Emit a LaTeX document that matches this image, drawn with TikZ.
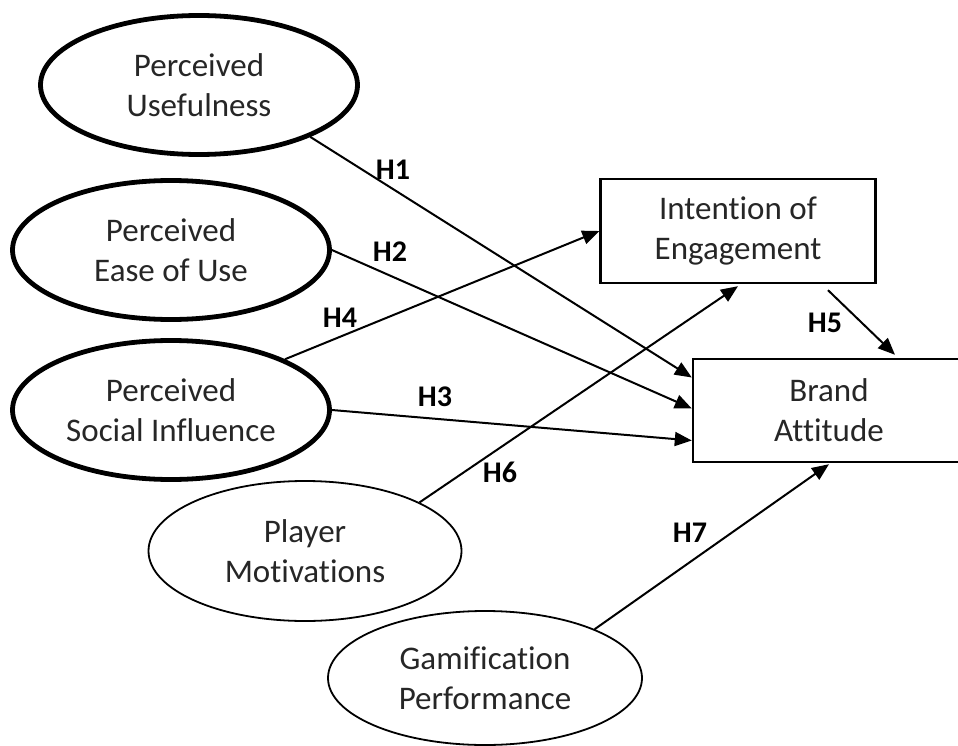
\documentclass[tikz,border=0pt]{standalone}
\usepackage{fontspec}
\setmainfont{Carlito}[RawFeature=-liga]
\usetikzlibrary{shapes.geometric,arrows.meta}
\begin{document}
\begin{tikzpicture}[x=1pt,y=-1pt,
  txt/.style={align=center,font=\fontsize{33}{40}\selectfont,text=black!85},
  thickell/.style={ellipse,draw,line width=4.8pt,inner sep=0pt,txt,minimum width=317pt,minimum height=139pt},
  thinell/.style={ellipse,draw,line width=1.8pt,inner sep=0pt,txt},
  box/.style={rectangle,draw,line width=2.4pt,inner sep=0pt,txt},
  conn/.style={line width=2pt,-{Triangle[length=17pt,width=14pt]}},
  hlab/.style={font=\bfseries\fontsize{30}{36}\selectfont,text=black}]
\useasboundingbox (0,0) rectangle (958,746);
\clip (0,0) rectangle (958,746);
% nodes
\node[thickell] (pu) at (199,85) {Perceived\\Usefulness};
\node[thickell] (pe) at (171,250) {Perceived\\Ease of Use};
\node[thickell] (ps) at (171,410) {Perceived\\Social Influence};
\node[thinell,minimum width=313pt,minimum height=140pt] (pm) at (305,551) {Player\\Motivations};
\node[thinell,minimum width=314pt,minimum height=134pt] (gp) at (485,678) {Gamification\\Performance};
\node[box,minimum width=275pt,minimum height=104pt] (ioe) at (738,231) {Intention of\\Engagement};
\node[box,minimum width=272pt,minimum height=103pt] (ba) at (829,410.5) {Brand\\Attitude};
% connectors
\draw[conn] (pu.-25) -- ([yshift=33pt]ba.west);
\draw[conn] (pe.east) -- ([yshift=2pt]ba.west);
\draw[conn] (ps.east) -- ([yshift=-30pt]ba.west);
\draw[conn] (ps.24) -- (ioe.west);
\draw[conn] (pm.23) -- ([yshift=-2pt]ioe.south);
\draw[conn] ([xshift=90pt,yshift=-6pt]ioe.south) -- ([xshift=66pt,yshift=3pt]ba.north);
\draw[conn] (gp.24) -- ([yshift=-1pt]ba.south);
% labels
\node[hlab] (h1) at (393,170) {H1};
\node[hlab] (h2) at (390,252) {H2};
\node[hlab] (h3) at (435,397) {H3};
\node[hlab] (h4) at (340,318) {H4};
\node[hlab] (h5) at (825,323) {H5};
\node[hlab] (h6) at (500,472) {H6};
\node[hlab] (h7) at (690,533) {H7};
\end{tikzpicture}
\end{document}
